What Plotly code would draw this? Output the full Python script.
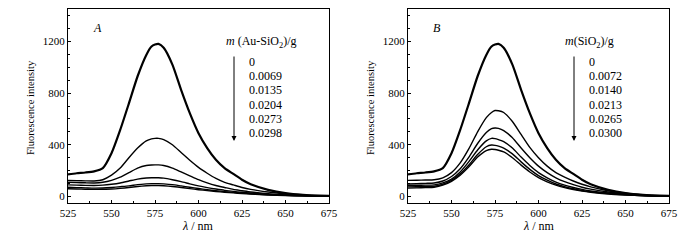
import plotly.graph_objects as go

# ---------------- data ----------------
wl = [525, 530, 535, 540, 545, 550, 555, 560, 565, 570, 573, 575, 577, 580, 585,
      590, 595, 600, 605, 610, 615, 620, 625, 630, 640, 650, 660, 675]

# Panel A: m(Au-SiO2)/g
labels_A = ["0", "0.0069", "0.0135", "0.0204", "0.0273", "0.0298"]
A0 = [172, 180, 186, 195, 220, 335, 515, 720, 930, 1095, 1160, 1175, 1180, 1150, 1020,
      825, 645, 490, 375, 285, 220, 175, 130, 95, 52, 26, 13, 5]
A1 = [125, 123, 121, 120, 130, 165, 220, 300, 375, 430, 446, 450, 450, 440, 400,
      340, 280, 225, 180, 140, 110, 90, 70, 55, 35, 20, 10, 4]
A2 = [110, 108, 106, 105, 110, 125, 150, 185, 220, 240, 244, 245, 245, 240, 220,
      190, 160, 130, 105, 85, 70, 55, 45, 35, 22, 12, 7, 3]
A3 = [90, 88, 86, 85, 88, 95, 105, 120, 135, 143, 145, 145, 145, 142, 130,
      115, 98, 82, 69, 58, 48, 40, 33, 27, 17, 10, 6, 3]
A4 = [72, 69, 67, 65, 66, 70, 76, 82, 92, 98, 100, 100, 100, 98, 92,
      82, 72, 62, 53, 45, 38, 32, 27, 22, 14, 9, 5, 2]
A5 = [60, 58, 56, 55, 56, 58, 63, 70, 77, 83, 85, 85, 85, 83, 77,
      70, 61, 53, 46, 39, 33, 28, 23, 19, 12, 8, 5, 2]

# Panel B: m(SiO2)/g
labels_B = ["0", "0.0072", "0.0140", "0.0213", "0.0265", "0.0300"]
B0 = A0
B1 = [125, 126, 128, 130, 145, 185, 260, 370, 500, 610, 650, 665, 663, 650, 580,
      480, 380, 300, 235, 185, 150, 120, 95, 75, 45, 25, 12, 5]
B2 = [97, 99, 102, 105, 120, 155, 215, 305, 410, 495, 525, 530, 527, 510, 455,
      375, 300, 235, 185, 145, 115, 92, 72, 57, 35, 20, 10, 4]
B3 = [85, 86, 88, 90, 105, 135, 190, 270, 360, 430, 450, 448, 440, 425, 375,
      305, 240, 185, 145, 112, 88, 70, 55, 43, 27, 16, 8, 3]
B4 = [75, 76, 78, 80, 95, 125, 175, 245, 325, 385, 398, 396, 390, 375, 330,
      268, 210, 162, 126, 97, 76, 60, 47, 37, 23, 13, 7, 3]
B5 = [65, 67, 69, 72, 88, 118, 165, 230, 305, 355, 366, 364, 358, 345, 300,
      243, 190, 147, 114, 88, 69, 54, 42, 33, 20, 12, 6, 2]

# page body has an 8px default margin; size the figure to fit the window
OFF = 8
W, H = 700 - 2 * OFF, 243 - 2 * OFF


def px(x):
    return (x - OFF) / W


def py(y):
    return (H - (y - OFF)) / H


fig = go.Figure()

series_A = [A0, A1, A2, A3, A4, A5]
series_B = [B0, B1, B2, B3, B4, B5]
for i, s in enumerate(series_A):
    fig.add_trace(go.Scatter(x=wl, y=s, mode="lines", xaxis="x", yaxis="y",
                             line=dict(color="black", width=2.2 if i == 0 else 1.4,
                                       shape="spline", smoothing=0.6),
                             showlegend=False, hoverinfo="skip"))
for i, s in enumerate(series_B):
    fig.add_trace(go.Scatter(x=wl, y=s, mode="lines", xaxis="x2", yaxis="y2",
                             line=dict(color="black", width=2.2 if i == 0 else 1.4,
                                       shape="spline", smoothing=0.6),
                             showlegend=False, hoverinfo="skip"))

serif = "Liberation Serif, Times New Roman, serif"
tickfont = dict(family=serif, size=11, color="black")

xax = dict(range=[525, 675], tickvals=[525, 550, 575, 600, 625, 650, 675],
           ticks="inside", ticklen=3, tickwidth=1, tickcolor="black",
           minor=dict(tickvals=[537.5, 562.5, 587.5, 612.5, 637.5, 662.5],
                      ticks="inside", ticklen=2, tickcolor="black"),
           showline=True, linecolor="black", linewidth=1.2, mirror=True,
           showgrid=False, zeroline=False, tickfont=tickfont, automargin=False)
yax = dict(range=[-50, 1450], tickvals=[0, 400, 800, 1200],
           ticks="inside", ticklen=3, tickwidth=1, tickcolor="black",
           minor=dict(dtick=100, ticks="inside", ticklen=2, tickcolor="black"),
           showline=True, linecolor="black", linewidth=1.2, mirror=True,
           showgrid=False, zeroline=False, tickfont=tickfont, automargin=False)

fig.update_layout(
    width=W, height=H,
    margin=dict(l=0, r=0, t=0, b=0, pad=0),
    paper_bgcolor="white", plot_bgcolor="white",
    xaxis=dict(xax, domain=[px(68), px(329)], anchor="y"),
    yaxis=dict(yax, domain=[py(203), py(9)], anchor="x"),
    xaxis2=dict(xax, domain=[px(408), px(669)], anchor="y2"),
    yaxis2=dict(yax, domain=[py(203), py(9)], anchor="x2"),
)

ann = []
font = dict(family=serif, size=11, color="black")
font_leg = dict(family=serif, size=12, color="black")
font_small = dict(family=serif, size=10.5, color="black")


def text(x, y, t, xanchor="left", f=font, angle=0):
    ann.append(dict(x=px(x), y=py(y), xref="paper", yref="paper", text=t,
                    showarrow=False, xanchor=xanchor, yanchor="middle",
                    font=f, textangle=angle))


for off, letter, title, tl, vl, arx, labels in [
    (0, "A", "<i>m</i> (Au-SiO<sub>2</sub>)/g", 224, 247, 234, labels_A),
    (340, "B", "<i>m</i>(SiO<sub>2</sub>)/g", 563 - 340, 587 - 340, 574 - 340, labels_B),
]:
    text(off + 97, 28, "<i>%s</i>" % letter, "center", f=font_leg)
    text(off + tl, 42, title, f=font_leg)
    for k, lab in enumerate(labels):
        text(off + vl, 62 + k * 14.2, lab, f=font_leg)
    ann.append(dict(x=px(off + arx), y=py(141), xref="paper", yref="paper",
                    ax=0, ay=-86, axref="pixel", ayref="pixel", text="",
                    showarrow=True, arrowhead=2, arrowsize=1, arrowwidth=1,
                    arrowcolor="black"))
    # axis titles
    text(off + 30, 108, "Fluorescence intensity", "center", f=font_small, angle=-90)
    text(off + 198.5, 226, "<i>λ</i> / nm", "center", f=font_leg)

fig.update_layout(annotations=ann)

fig.write_html("out.html")
